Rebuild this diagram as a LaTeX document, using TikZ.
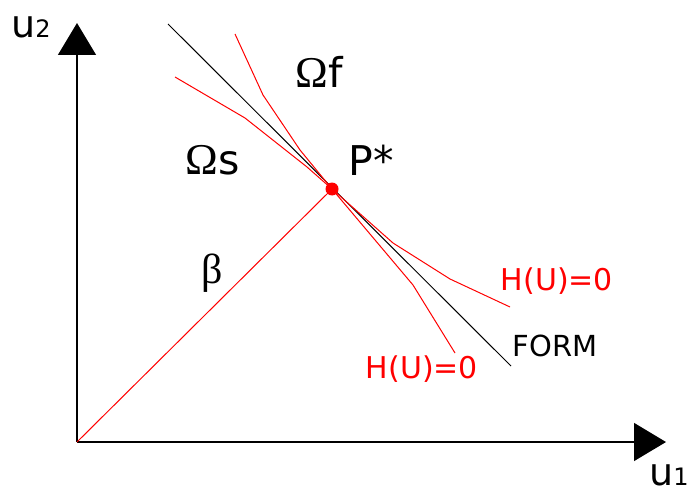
\documentclass[tikz,border=0pt]{standalone}
\usepackage{fontspec}
\setmainfont{DejaVu Sans}
\newfontfamily\serf{Liberation Serif}
\usetikzlibrary{arrows.meta}
\tikzset{
  axis/.style={line width=1.5pt, -{Triangle[width=38pt,length=32pt]}},
  formline/.style={line width=1pt, black},
  redline/.style={line width=1pt, red, line join=round},
  lbl/.style={inner sep=0pt, anchor=center},
  big/.style={font=\fontsize{41}{41}\selectfont},
  mid/.style={font=\fontsize{30}{30}\selectfont},
}
\begin{document}
\begin{tikzpicture}[x=1pt,y=-1pt]
\useasboundingbox (0,0) rectangle (687,489);
% key points
\coordinate (O) at (77,442);
\coordinate (Ytop) at (77,23);
\coordinate (Xend) at (666,442);
\coordinate (P) at (332,189);
\coordinate (F1) at (168,24);
\coordinate (F2) at (511,366);
% curve A
\coordinate (A1) at (235,34);
\coordinate (A2) at (263,95);
\coordinate (A3) at (300,150);
\coordinate (A4) at (413,285);
\coordinate (A5) at (455,353);
% curve B
\coordinate (B1) at (175,77);
\coordinate (B2) at (245,118);
\coordinate (B3) at (307,167);
\coordinate (B4) at (393,243);
\coordinate (B5) at (450,279);
\coordinate (B6) at (510,307);
% axes
\draw[axis] (O) -- (Ytop);
\draw[axis] (O) -- (Xend);
% FORM line
\draw[formline] (F1) -- (F2);
% beta line
\draw[redline] (O) -- (P);
% limit state curves
\draw[redline] (A1) -- (A2) -- (A3) -- (P) -- (A4) -- (A5);
\draw[redline] (B1) -- (B2) -- (B3) -- (P) -- (B4) -- (B5) -- (B6);
% design point
\fill[red] (P) circle (6.5);
% labels
\node[lbl, font=\fontsize{38}{38}\selectfont, anchor=base west] (u2) at (11,38) {u{\fontsize{24}{24}\selectfont 2}};
\node[lbl, font=\fontsize{38}{38}\selectfont, anchor=base west] (u1) at (649,485) {u{\fontsize{24}{24}\selectfont 1}};
\node[lbl, big] (Of) at (319,72) {{\serf\fontsize{44}{44}\selectfont Ω}f};
\node[lbl, big] (Os) at (213,160) {{\serf\fontsize{44}{44}\selectfont Ω}s};
\node[lbl, big] (Pstar) at (371,160) {P*};
\node[lbl, font=\serf\fontsize{42}{42}\selectfont] (beta) at (212,273) {β};
\node[lbl, mid, red] (H1) at (557,281) {H(U)=0};
\node[lbl, mid, red] (H2) at (422,369) {H(U)=0};
\node[lbl, font=\fontsize{29}{29}\selectfont] (form) at (555,346) {FORM};
\end{tikzpicture}
\end{document}
